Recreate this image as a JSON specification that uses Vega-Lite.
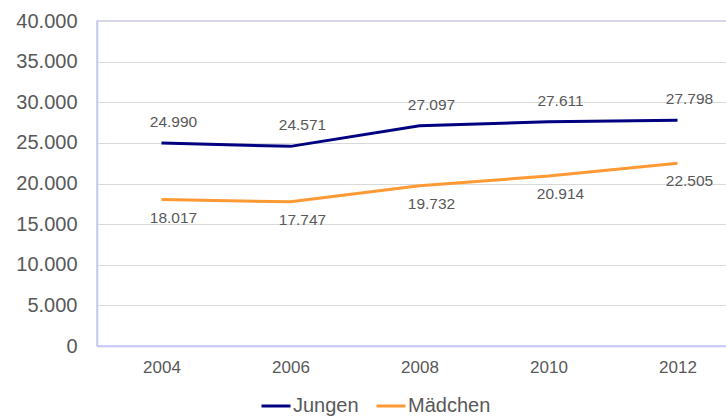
{
  "$schema": "https://vega.github.io/schema/vega-lite/v6.json",
  "autosize": "none",
  "width": 645,
  "height": 325,
  "padding": {"left": 97, "top": 21, "right": 0, "bottom": 70},
  "background": "white",
  "config": {
    "locale": {"number": {"decimal": ",", "thousands": ".", "grouping": [3], "currency": ["", " €"]}},
    "font": "Liberation Sans",
    "view": {"stroke": "#c6c6f2", "strokeWidth": 1.5}
  },
  "data": {
    "values": [
      {"Jahr": "2004", "Gruppe": "Jungen", "Wert": 24990},
      {"Jahr": "2006", "Gruppe": "Jungen", "Wert": 24571},
      {"Jahr": "2008", "Gruppe": "Jungen", "Wert": 27097},
      {"Jahr": "2010", "Gruppe": "Jungen", "Wert": 27611},
      {"Jahr": "2012", "Gruppe": "Jungen", "Wert": 27798},
      {"Jahr": "2004", "Gruppe": "Mädchen", "Wert": 18017},
      {"Jahr": "2006", "Gruppe": "Mädchen", "Wert": 17747},
      {"Jahr": "2008", "Gruppe": "Mädchen", "Wert": 19732},
      {"Jahr": "2010", "Gruppe": "Mädchen", "Wert": 20914},
      {"Jahr": "2012", "Gruppe": "Mädchen", "Wert": 22505}
    ]
  },
  "encoding": {
    "x": {
      "field": "Jahr", "type": "ordinal", "title": null,
      "scale": {"type": "point", "padding": 0.5},
      "axis": {"labelAngle": 0, "labelFontSize": 17, "labelColor": "#595959", "labelPadding": 13, "ticks": false, "domainColor": "#c6c6f2", "domainWidth": 1.5, "grid": false}
    },
    "y": {
      "field": "Wert", "type": "quantitative", "title": null,
      "scale": {"domain": [0, 40000], "nice": false},
      "axis": {"values": [0, 5000, 10000, 15000, 20000, 25000, 30000, 35000, 40000], "format": ",d", "labelFontSize": 20, "labelColor": "#595959", "labelPadding": 20, "ticks": false, "domainColor": "#c6c6f2", "domainWidth": 1.5, "gridColor": "#d9d9d9", "gridWidth": 1}
    }
  },
  "layer": [
    {
      "mark": {"type": "line", "strokeWidth": 3},
      "encoding": {
        "color": {
          "field": "Gruppe", "type": "nominal", "title": null,
          "scale": {"domain": ["Jungen", "Mädchen"], "range": ["#000080", "#ff9933"]},
          "legend": {"orient": "none", "legendX": 163, "legendY": 369, "direction": "horizontal", "symbolType": "stroke", "symbolSize": 841, "symbolStrokeWidth": 3, "labelFontSize": 20, "labelColor": "#595959", "labelOffset": 1, "columnPadding": 11}
        }
      }
    },
    {
      "transform": [{"filter": "datum.Gruppe == 'Jungen'"}],
      "mark": {"type": "text", "dy": -21, "dx": 12, "fontSize": 15.5, "color": "#595959"},
      "encoding": {"text": {"field": "Wert", "type": "quantitative", "format": ",d"}}
    },
    {
      "transform": [{"filter": "datum.Gruppe == 'Mädchen'"}],
      "mark": {"type": "text", "dy": 18, "dx": 12, "fontSize": 15.5, "color": "#595959"},
      "encoding": {"text": {"field": "Wert", "type": "quantitative", "format": ",d"}}
    }
  ]
}
